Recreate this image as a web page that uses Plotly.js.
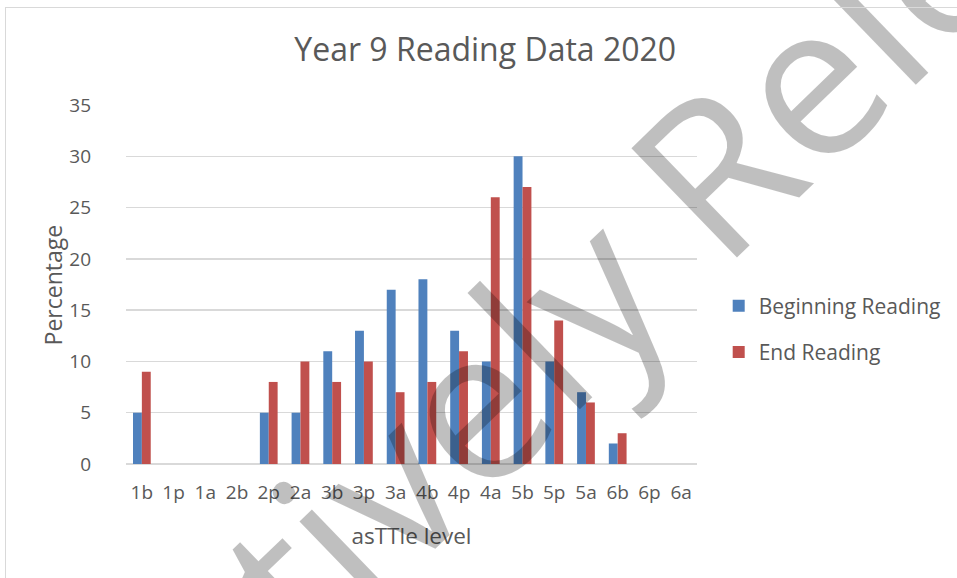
<!DOCTYPE html>
<html>
<head>
<meta charset="utf-8">
<script src="https://cdn.plot.ly/plotly-3.0.1.min.js"></script>
<style>
  html, body { margin: 0; padding: 0; background: #ffffff; }
  #wrap { position: relative; width: 957px; height: 578px; overflow: hidden; }
  #chart { width: 957px; height: 578px; }
  #frame { position: absolute; left: 5px; top: 7px; width: 1000px; height: 700px;
           border: 1.5px solid #d9d9d9; pointer-events: none; }
</style>
</head>
<body>
<div id="wrap">
  <div id="chart"></div>
  <div id="frame"></div>
</div>
<script>
const levels = ["1b","1p","1a","2b","2p","2a","3b","3p","3a","4b","4p","4a","5b","5p","5a","6b","6p","6a"];
const beginningReading = [5, null, null, null, 5, 5, 11, 13, 17, 18, 13, 10, 30, 10, 7, 2, null, null];
const endReading       = [9, null, null, null, 8, 10, 8, 10, 7, 8, 11, 26, 27, 14, 6, 3, null, null];
const yTicks = [0, 5, 10, 15, 20, 25, 30, 35];

const textColor = "#595959";
const font = "'Open Sans', 'Noto Sans', sans-serif";

const traces = [
  { type: "bar", name: "Beginning Reading", x: levels, y: beginningReading,
    marker: { color: "#4f81bd" }, legendgroup: "a", hoverinfo: "x+y" },
  { type: "bar", name: "End Reading", x: levels, y: endReading,
    marker: { color: "#c0504d" }, legendgroup: "b", hoverinfo: "x+y" }
];

const layout = {
  width: 957, height: 578,
  paper_bgcolor: "#ffffff", plot_bgcolor: "#ffffff",
  margin: { l: 125.5, r: 260, t: 105, b: 114, pad: 0, autoexpand: false },
  barmode: "group", bargap: 0.44, bargroupgap: 0,
  font: { family: font, color: textColor, size: 19 },
  title: { text: "Year 9 Reading Data 2020", font: { family: font, size: 32, color: textColor },
           x: 0.507, xref: "container", xanchor: "center", y: 0.913, yref: "container", yanchor: "middle" },
  xaxis: {
    type: "category", categoryorder: "array", categoryarray: levels,
    showgrid: false, showline: false, zeroline: false, ticks: "",
    tickfont: { family: font, size: 19, color: textColor },
    ticklabelstandoff: 15,
    title: { text: "asTTle level", font: { family: font, size: 22.5, color: textColor }, standoff: 24 }
  },
  yaxis: {
    range: [0, 35], tickvals: yTicks, ticktext: yTicks.map(String),
    showgrid: true, gridcolor: "#d9d9d9", gridwidth: 1.5,
    zeroline: true, zerolinecolor: "#d9d9d9", zerolinewidth: 1.5,
    showline: false, ticks: "",
    tickfont: { family: font, size: 19, color: textColor },
    ticklabelstandoff: 34
  },
  legend: {
    x: 1.038, xanchor: "left", xref: "paper",
    y: 0.497, yanchor: "top", yref: "paper",
    traceorder: "grouped", tracegroupgap: 16,
    font: { family: font, size: 21, color: textColor },
    bgcolor: "rgba(0,0,0,0)", itemwidth: 30
  },
  annotations: [
    {
      text: "Percentage", xref: "paper", yref: "paper",
      x: -0.128, y: 0.5, xanchor: "center", yanchor: "middle",
      textangle: -90, showarrow: false,
      font: { family: font, size: 23, color: textColor }
    },
    {
      text: "Proactively Released", xref: "paper", yref: "paper",
      x: 0.791, y: 0.468, xanchor: "center", yanchor: "middle",
      textangle: -44, showarrow: false,
      font: { family: font, size: 213, color: "rgba(0,0,0,0.25)" }
    }
  ],
  showlegend: true
};

Plotly.newPlot("chart", traces, layout, { displayModeBar: false, staticPlot: true });
</script>
</body>
</html>
